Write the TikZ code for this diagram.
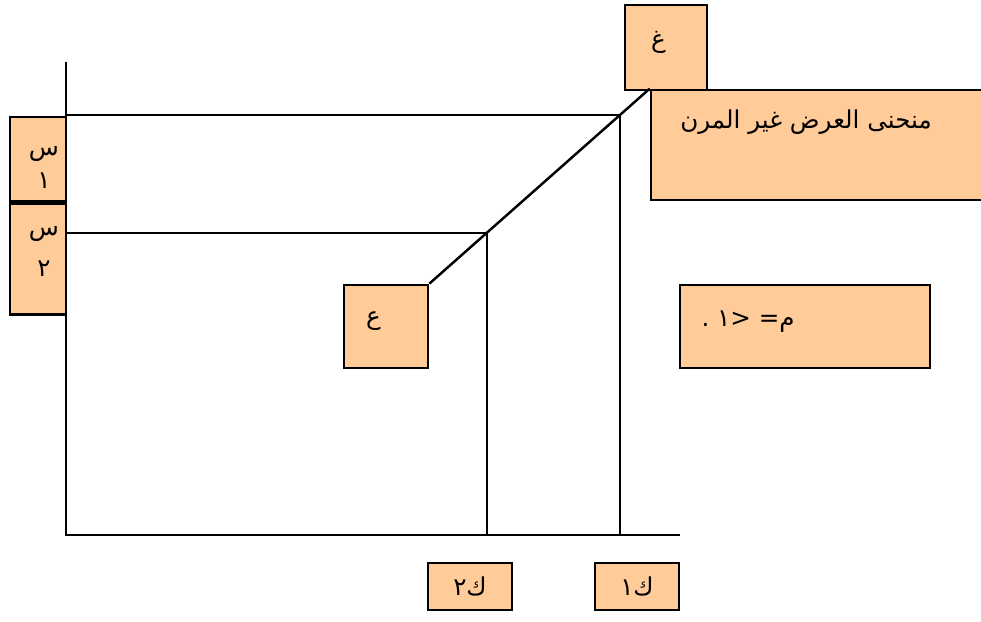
\documentclass[tikz,border=0pt]{standalone}
\usepackage{fontspec}
\newfontfamily\arabicfont[Script=Arabic]{DejaVu Sans}
\newfontfamily\plainfont{DejaVu Sans}
\TeXXeTstate=1
\usetikzlibrary{calc}

\begin{document}
\begin{tikzpicture}[
    box/.style={draw, line width=1.5pt, fill=orange!40!white, inner sep=0pt,
        font=\arabicfont\fontsize{14}{16}\selectfont, align=center},
    lbl/.style={font=\arabicfont\fontsize{14}{16}\selectfont, align=center, inner sep=0pt},
    axis/.style={line width=1.4pt}
  ]
        \useasboundingbox (0,0) rectangle (19.62,12.44);
        % axes
        \coordinate (origin) at (1.32,1.74);
        \coordinate (ytop) at (1.32,11.2);
        \coordinate (xend) at (13.6,1.74);
        \draw[axis] (ytop) -- (origin) -- (xend);
        % boxes
        \node[box, minimum width=1.64cm, minimum height=1.7cm] (boxG) at (13.32,11.49) {};
        \node[lbl] at ($(boxG)+(-0.15,0.1)$) {\beginR غ\endR};
        \node[box, minimum width=6.7cm, minimum height=2.2cm] (boxCurve) at (16.37,9.54) {};
        \node[lbl] at (16.12,10.0) {\beginR منحنى العرض غير  المرن\endR};
        \node[box, minimum width=1.12cm, minimum height=1.68cm] (boxS1) at (0.76,9.26) {};
        \node[lbl, below=0.6cm, xshift=0.12cm] at (boxS1.north) {\beginR س\endR\\[3pt]\beginR ١\endR};
        \node[box, minimum width=1.12cm, minimum height=2.22cm, anchor=north] (boxS2) at (boxS1.south) {};
        \node[lbl, below=0.48cm, xshift=0.12cm] at (boxS2.north) {\beginR س\endR\\[7pt]\beginR ٢\endR};
        \node[box, minimum width=1.68cm, minimum height=1.66cm] (boxA) at (7.72,5.91) {};
        \node[lbl] at ($(boxA)+(-0.25,0.1)$) {\beginR ع\endR};
        \node[box, minimum width=5cm, minimum height=1.66cm] (boxM) at (16.1,5.91) {};
        \node[lbl, anchor=west] at ($(boxM.west)+(0.45,0.1)$) {\hbox{.}\ \hbox{١}{\plainfont>}\ {\plainfont=}\hbox{م}};
        \node[box, minimum width=1.68cm, minimum height=0.94cm] (boxK2) at (9.4,0.71) {\beginR ك٢\endR};
        \node[box, minimum width=1.68cm, minimum height=0.94cm] (boxK1) at (12.74,0.71) {\beginR ك١\endR};
        % supply curve
        \draw[axis] (boxA.north east) -- (boxCurve.north west);
        \coordinate (p1) at ($(boxA.north east)!0.865!(boxCurve.north west)$);
        \coordinate (p2) at ($(boxA.north east)!0.261!(boxCurve.north west)$);
        \draw[axis] (origin |- p1) -- (p1) -- (p1 |- origin);
        \draw[axis] (origin |- p2) -- (p2) -- (p2 |- origin);
    \end{tikzpicture}
\end{document}
